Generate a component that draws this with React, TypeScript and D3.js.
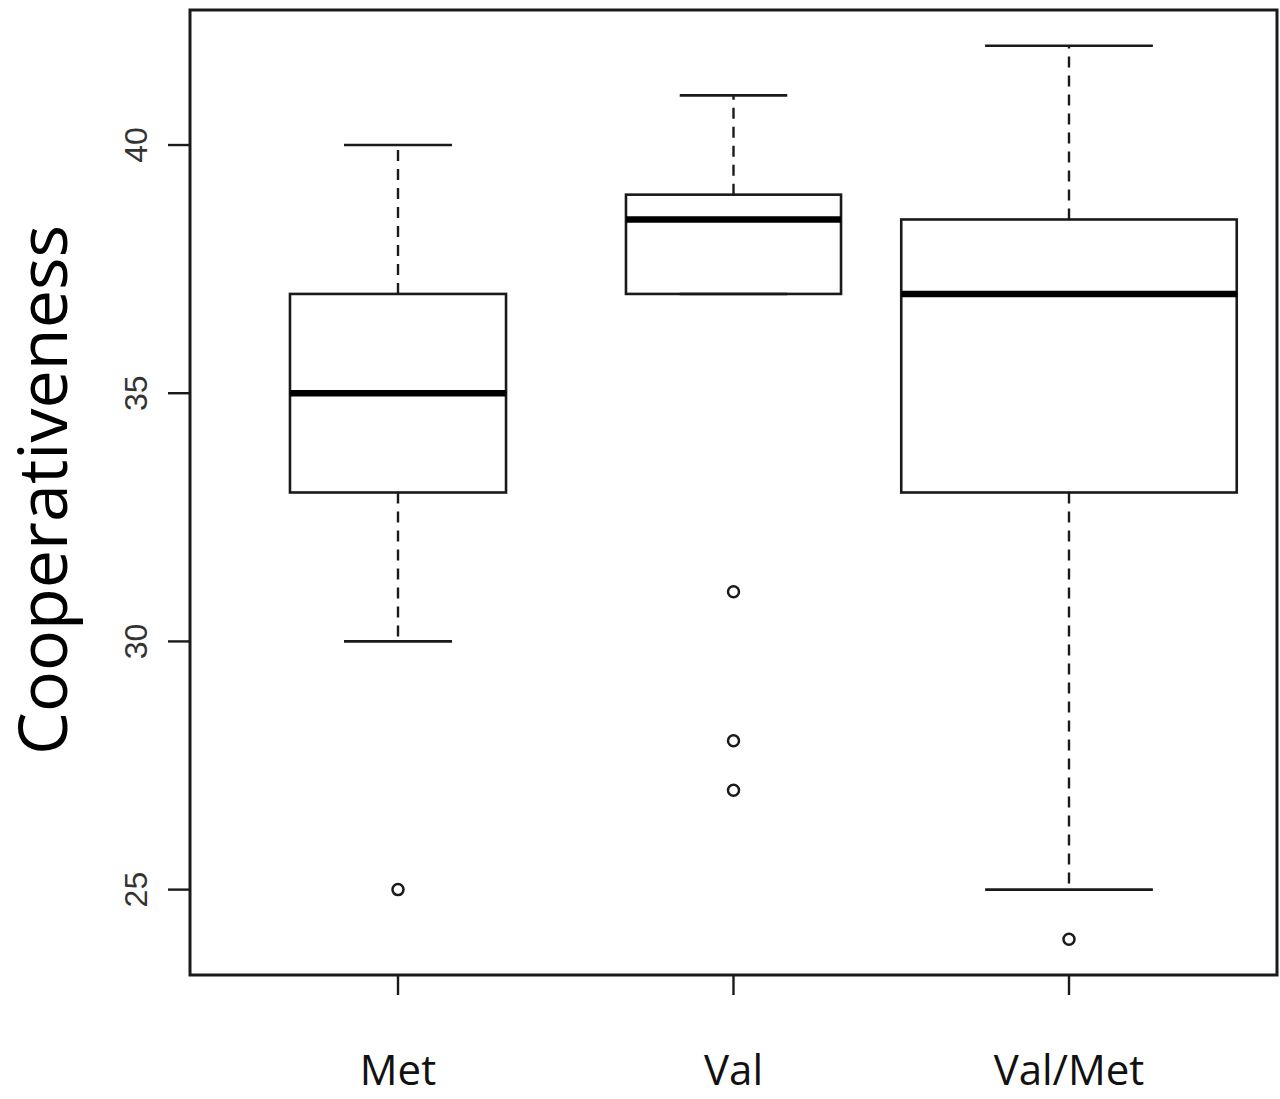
import React from "react";
import * as d3 from "d3";

const categories = ["Met", "Val", "Val/Met"];
const lowerWhisker = [30, 37, 25];
const q1 = [33, 37, 33];
const medians = [35, 38.5, 37];
const q3 = [37, 39, 38.5];
const upperWhisker = [40, 41, 42];
const outliers = [[25], [31, 28, 27], [24]];
const boxWidths = [0.644, 0.641, 1.0];
const yTicks = [25, 30, 35, 40];
const yTitle = "Cooperativeness";

const W = 1280;
const H = 1099;
const left = 190;
const right = 1277;
const top = 10;
const bottom = 975;

export default function App() {
  const x = d3.scaleLinear().domain([0.38, 3.62]).range([left, right]);
  const y = d3.scaleLinear().domain([23.28, 42.72]).range([bottom, top]);
  const unit = x(1) - x(0);
  const ink = "#1a1a1a";

  return (
    <div style={{ position: "absolute", left: 0, top: 0 }}>
      <svg width={W} height={H} viewBox={`0 0 ${W} ${H}`} style={{ display: "block", background: "#fff" }}>
        {categories.map((c, i) => {
          const cx = x(i + 1);
          const hw = (boxWidths[i] * unit) / 2;
          const cap = hw / 2;
          return (
            <g key={c}>
              {upperWhisker[i] > q3[i] && (
                <line x1={cx} x2={cx} y1={y(q3[i])} y2={y(upperWhisker[i])} stroke={ink} strokeWidth={2.4} strokeDasharray="11 8" />
              )}
              {lowerWhisker[i] < q1[i] && (
                <line x1={cx} x2={cx} y1={y(q1[i])} y2={y(lowerWhisker[i])} stroke={ink} strokeWidth={2.4} strokeDasharray="11 8" />
              )}
              <line x1={cx - cap} x2={cx + cap} y1={y(upperWhisker[i])} y2={y(upperWhisker[i])} stroke={ink} strokeWidth={2.6} />
              <line x1={cx - cap} x2={cx + cap} y1={y(lowerWhisker[i])} y2={y(lowerWhisker[i])} stroke={ink} strokeWidth={2.6} />
              <rect x={cx - hw} y={y(q3[i])} width={2 * hw} height={y(q1[i]) - y(q3[i])} fill="none" stroke={ink} strokeWidth={2.6} />
              <line x1={cx - hw} x2={cx + hw} y1={y(medians[i])} y2={y(medians[i])} stroke="#000" strokeWidth={6.5} />
              {outliers[i].map((o, j) => (
                <circle key={j} cx={cx} cy={y(o)} r={5.5} fill="none" stroke={ink} strokeWidth={2.5} />
              ))}
              <line x1={cx} x2={cx} y1={bottom} y2={bottom + 20} stroke={ink} strokeWidth={2.4} />
              <text x={cx} y={1085} textAnchor="middle" fontFamily="'Open Sans', sans-serif" fontSize={42} fill="#111">
                {c}
              </text>
            </g>
          );
        })}
        <rect x={left} y={top} width={right - left} height={bottom - top} fill="none" stroke={ink} strokeWidth={3} />
        {yTicks.map((t) => (
          <g key={t}>
            <line x1={left - 22} x2={left} y1={y(t)} y2={y(t)} stroke={ink} strokeWidth={2.4} />
            <text
              transform={`translate(147,${y(t)}) rotate(-90)`}
              textAnchor="middle"
              fontFamily="'Liberation Sans', Arial, sans-serif"
              fontSize={32}
              fill="#333"
            >
              {t}
            </text>
          </g>
        ))}
        <text
          transform={`translate(67,490) rotate(-90)`}
          textAnchor="middle"
          fontFamily="'Open Sans', sans-serif"
          fontSize={68}
          fill="#000"
          textLength={530}
          lengthAdjust="spacingAndGlyphs"
        >
          {yTitle}
        </text>
      </svg>
    </div>
  );
}
